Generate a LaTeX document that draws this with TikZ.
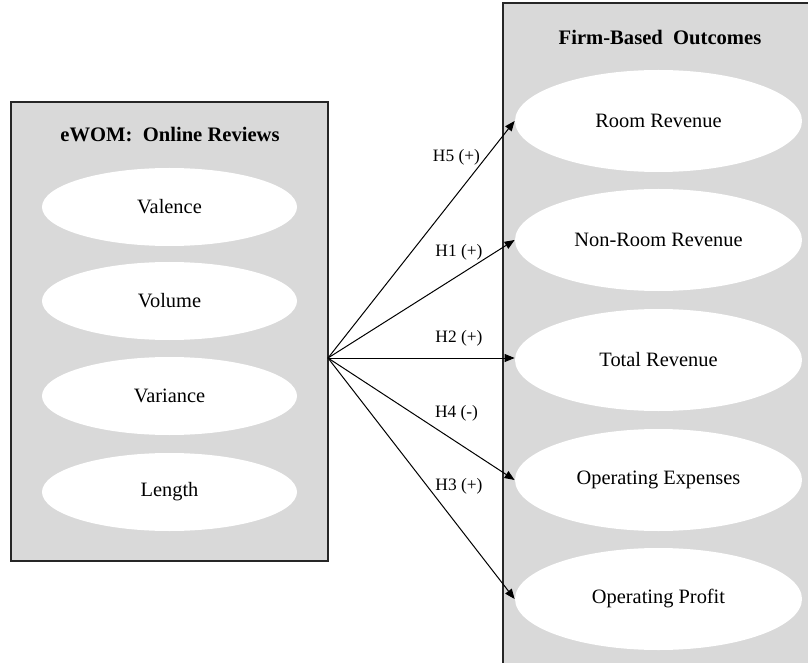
\documentclass[tikz,border=0pt]{standalone}
\usepackage{fontspec}
\setmainfont{Liberation Serif}
\usetikzlibrary{shapes.geometric, arrows.meta, positioning}
\definecolor{panelgray}{HTML}{D9D9D9}

\begin{document}
\begin{tikzpicture}[x=0.5pt, y=-0.5pt]
    \tikzstyle{panel} = [rectangle, draw=black!85, line width=0.7pt, fill=panelgray, inner sep=0pt]
    \tikzstyle{title} = [font=\fontsize{10.3}{12}\selectfont\bfseries, text centered]
    \tikzstyle{driver} = [ellipse, fill=white, inner sep=0pt, minimum width=127.5pt, minimum height=39pt, font=\fontsize{10.2}{12}\selectfont]
    \tikzstyle{outcome} = [ellipse, fill=white, inner sep=0pt, minimum width=143.5pt, minimum height=51pt, font=\fontsize{10.2}{12}\selectfont]
    \tikzstyle{hyp} = [font=\fontsize{8.7}{10}\selectfont, inner sep=0pt]
    \tikzstyle{arrow} = [line width=0.5pt, -{Triangle[length=5pt, width=4pt]}]

    \clip (0,0) rectangle (808,663);

    % left panel: online reviews
    \node (ewom) [panel, minimum width=158.5pt, minimum height=229.5pt] at (169.5,331.5) {};
    \node (ewomtitle) [title] at (170,135) {eWOM:\ \ Online Reviews};
    \node (valence) [driver] at (169.5,207) {Valence};
    \node (volume) [driver] at (169.5,301) {Volume};
    \node (variance) [driver] at (169.5,396) {Variance};
    \node (length) [driver] at (169.5,492) {Length};

    % right panel: firm outcomes (runs off the page)
    \node (firm) [panel, minimum width=160pt, minimum height=348.5pt] at (663,351.5) {};
    \node (firmtitle) [title] at (660,37) {Firm-Based\ \ Outcomes};
    \node (room) [outcome] at (658.5,121) {Room Revenue};
    \node (nonroom) [outcome] at (658.5,240) {Non-Room Revenue};
    \node (total) [outcome] at (658.5,360) {Total Revenue};
    \node (opex) [outcome] at (658.5,480) {Operating Expenses};
    \node (profit) [outcome] at (658.5,599) {Operating Profit};

    \coordinate (hub) at (328,358);

    \draw [arrow] (hub) -- (room.west);
    \draw [arrow] (hub) -- (nonroom.west);
    \draw [arrow] (hub) -- (hub -| total.west);
    \draw [arrow] (hub) -- (opex.west);
    \draw [arrow] (hub) -- (profit.west);

    \node (h5) [hyp] at (456.5,157) {H5 (+)};
    \node (h1) [hyp] at (459,252) {H1 (+)};
    \node (h2) [hyp] at (459,338) {H2 (+)};
    \node (h4) [hyp] at (456.5,413) {H4 (-)};
    \node (h3) [hyp] at (459,486) {H3 (+)};
\end{tikzpicture}
\end{document}
